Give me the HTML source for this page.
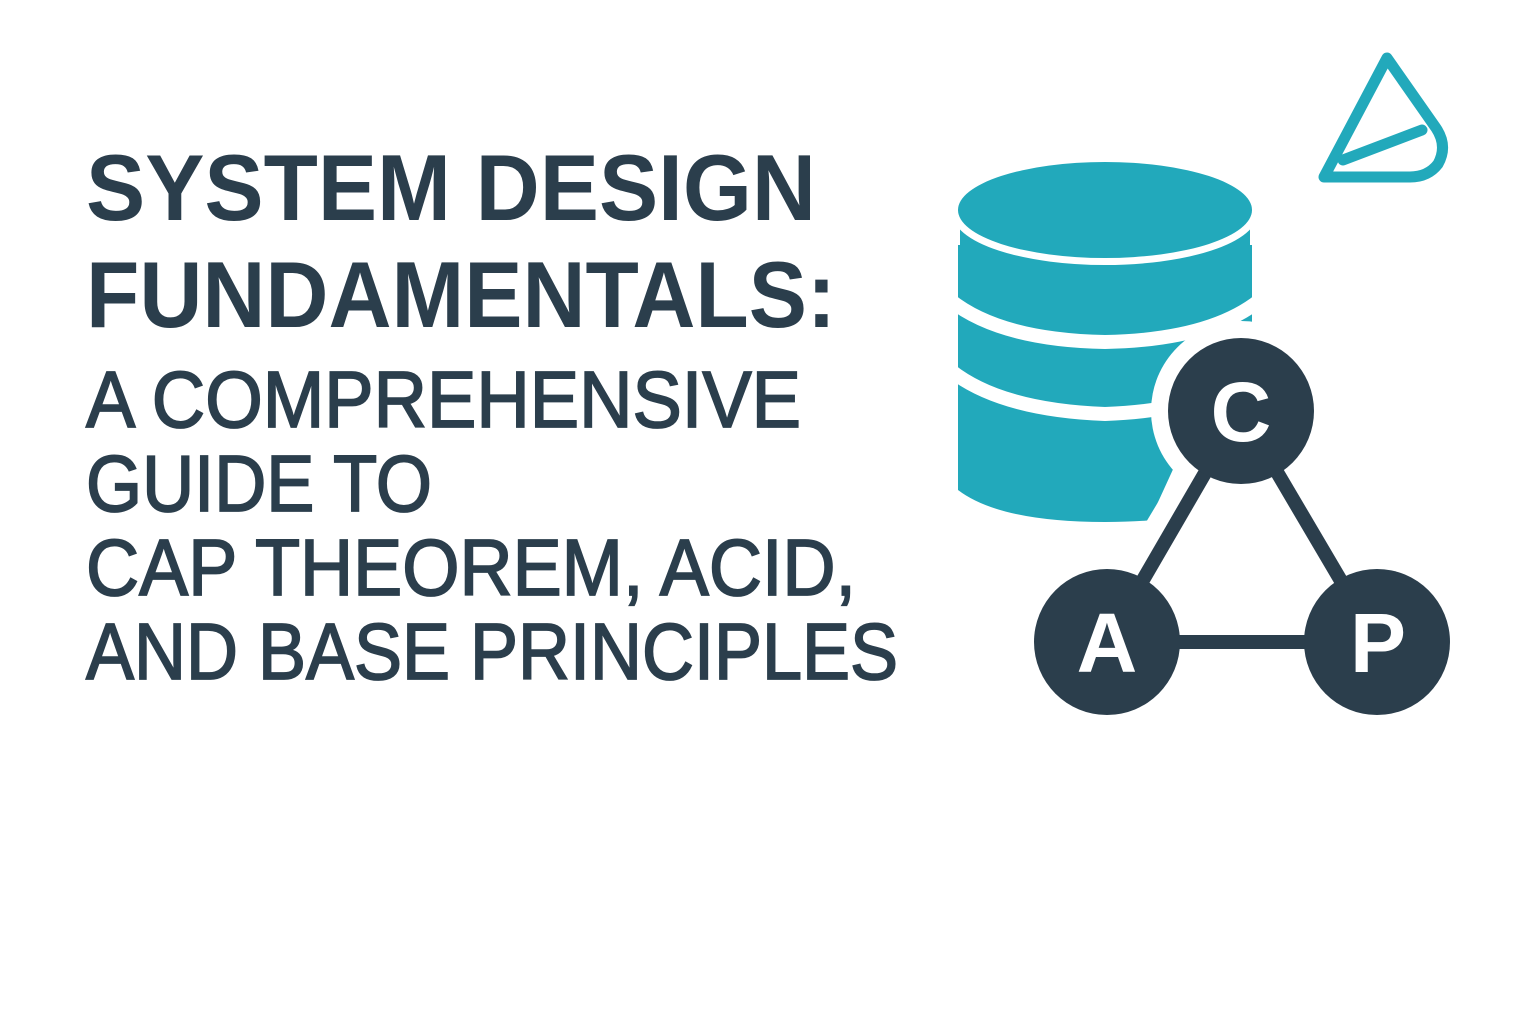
<!DOCTYPE html>
<html><head><meta charset="utf-8"><style>
html,body{margin:0;padding:0;background:#fff;}
svg{display:block;}
</style></head><body>
<svg width="1536" height="1024" viewBox="0 0 1536 1024" xmlns="http://www.w3.org/2000/svg">
<rect width="1536" height="1024" fill="#fff"/>
<g font-family="Liberation Sans, sans-serif" fill="#2b3e4c">
<text x="86" y="220" font-size="94" font-weight="bold" textLength="730" lengthAdjust="spacingAndGlyphs">SYSTEM DESIGN</text>
<text x="86" y="327" font-size="94" font-weight="bold" textLength="750" lengthAdjust="spacingAndGlyphs">FUNDAMENTALS:</text>
<g stroke="#2b3e4c" stroke-width="1.8">
<text x="86" y="427" font-size="80" textLength="715" lengthAdjust="spacingAndGlyphs">A COMPREHENSIVE</text>
<text x="86" y="511" font-size="80" textLength="346" lengthAdjust="spacingAndGlyphs">GUIDE TO</text>
<text x="86" y="595" font-size="80" textLength="770" lengthAdjust="spacingAndGlyphs">CAP THEOREM, ACID,</text>
<text x="86" y="679" font-size="80" textLength="812" lengthAdjust="spacingAndGlyphs">AND BASE PRINCIPLES</text>
</g>
</g>
<!-- database body -->
<path d="M958 212 L1252 212 L1252 490 Q1210 522 1105 522 Q1000 522 958 490 Z" fill="#22a9bb"/>
<!-- white gaps -->
<g fill="none" stroke="#fff" stroke-width="14">
<path d="M950 300 Q1000 340 1105 342 Q1210 340 1260 300"/>
<path d="M950 370 Q1000 410 1105 414 Q1210 410 1260 370"/>
</g>
<!-- top ellipse with white gap below -->
<ellipse cx="1105" cy="210" rx="147" ry="48" fill="#22a9bb" stroke="#fff" stroke-width="14"/>
<rect x="940" y="150" width="20" height="95" fill="#fff"/>
<rect x="1250" y="150" width="20" height="95" fill="#fff"/>
<ellipse cx="1105" cy="210" rx="147" ry="48" fill="#22a9bb"/>
<!-- cut the lower right of db -->
<polygon points="1175,430 1175,465 1148,524 1270,530 1270,430" fill="#fff"/>
<!-- white halo around C and lines -->
<circle cx="1241" cy="411" r="90" fill="#fff"/>
<line x1="1215" y1="450" x2="1140" y2="575" stroke="#fff" stroke-width="44"/>
<!-- CAP graph -->
<g stroke="#2b3e4c" stroke-width="14">
<line x1="1241" y1="411" x2="1107" y2="642"/>
<line x1="1241" y1="411" x2="1377" y2="642"/>
<line x1="1107" y1="642" x2="1377" y2="642"/>
</g>
<g fill="#2b3e4c">
<circle cx="1241" cy="411" r="73"/>
<circle cx="1107" cy="642" r="73"/>
<circle cx="1377" cy="642" r="73"/>
</g>
<g font-family="Liberation Sans, sans-serif" font-weight="bold" font-size="84" fill="#fff" text-anchor="middle">
<text x="1241" y="441">C</text>
<text x="1107" y="672">A</text>
<text x="1378" y="672">P</text>
</g>
<!-- logo -->
<g fill="none" stroke="#22a9bb" stroke-width="11" stroke-linejoin="round" stroke-linecap="round">
<path d="M1387 58 L1436 128 Q1448 146 1438 164 Q1428 177 1410 177 L1324 177 Z"/>
<path d="M1343 160 L1422 130"/>
</g>
</svg>
</body></html>
